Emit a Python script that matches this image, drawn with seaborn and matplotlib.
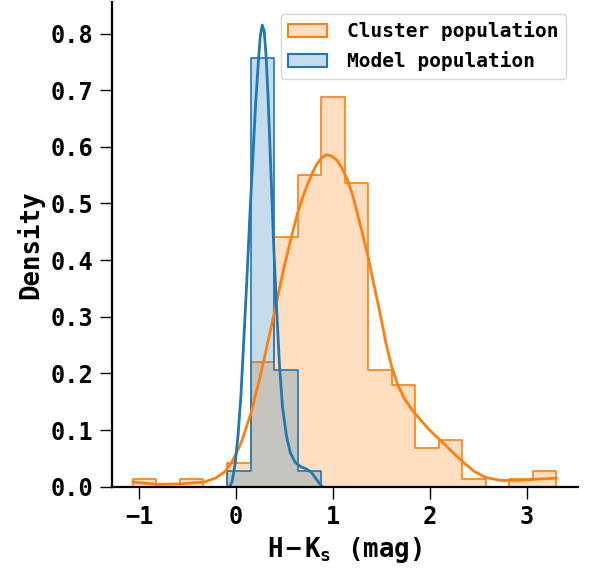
import numpy as np
import pandas as pd
import matplotlib
matplotlib.use("Agg")
import matplotlib.pyplot as plt
from matplotlib.patches import Patch
import seaborn as sns

# ---------------- data ----------------
populations = ["Cluster population", "Model population"]
bin_lo, bin_hi, n_bins = -1.066, 3.309, 18
cluster_counts = [1, 0, 1, 0, 3, 16, 32, 40, 50, 39, 15, 13, 5, 6, 1, 0, 1, 2]
model_counts = [0, 0, 0, 0, 2, 55, 15, 2, 0, 0, 0, 0, 0, 0, 0, 0, 0, 0]

cluster_kde_x = [-1.066, -0.80, -0.577, -0.335, -0.214, -0.111, -0.041, 0.027, 0.062,
                 0.154, 0.250, 0.395, 0.499, 0.570, 0.637, 0.690, 0.733, 0.785, 0.837,
                 0.885, 0.930, 0.985, 1.044, 1.095, 1.148, 1.200, 1.251, 1.305, 1.362,
                 1.430, 1.493, 1.55, 1.607, 1.67, 1.734, 1.80, 1.855, 1.915, 1.976,
                 2.035, 2.097, 2.218, 2.339, 2.459, 2.580, 2.735, 2.908, 3.080, 3.309]
cluster_kde_y = [0.008, 0.004, 0.005, 0.008, 0.015, 0.027, 0.044, 0.068, 0.082,
                 0.130, 0.195, 0.307, 0.390, 0.440, 0.484, 0.512, 0.531, 0.553, 0.570,
                 0.581, 0.586, 0.584, 0.576, 0.562, 0.543, 0.517, 0.484, 0.447, 0.407,
                 0.352, 0.301, 0.252, 0.212, 0.180, 0.157, 0.140, 0.128, 0.116, 0.104,
                 0.094, 0.084, 0.064, 0.044, 0.027, 0.016, 0.011, 0.011, 0.013, 0.015]
model_kde_x = [-0.065, -0.04, -0.01, 0.02, 0.05, 0.08, 0.11, 0.14, 0.17, 0.20, 0.23,
               0.25, 0.27, 0.29, 0.31, 0.33, 0.35, 0.37, 0.39, 0.42, 0.45, 0.48,
               0.52, 0.56, 0.61, 0.67, 0.73, 0.78, 0.83, 0.87, 0.89]
model_kde_y = [0.0, 0.01, 0.04, 0.09, 0.16, 0.26, 0.36, 0.47, 0.57, 0.67, 0.75,
               0.795, 0.815, 0.805, 0.76, 0.69, 0.60, 0.51, 0.42, 0.31, 0.21, 0.14,
               0.09, 0.06, 0.043, 0.035, 0.031, 0.025, 0.013, 0.004, 0.0]

colors = {"Cluster population": "#ff7f0e", "Model population": "#1f77b4"}
x_label = r"$\mathrm{H-K_{s}}$ (mag)"
y_label = "Density"

# ---------------- build table ----------------
edges = np.linspace(bin_lo, bin_hi, n_bins + 1)
centers = 0.5 * (edges[:-1] + edges[1:])
df = pd.concat([
    pd.DataFrame({"HK": centers, "count": cluster_counts, "pop": populations[0]}),
    pd.DataFrame({"HK": centers, "count": model_counts, "pop": populations[1]}),
], ignore_index=True)

# ---------------- style ----------------
plt.rcParams["font.family"] = ["DejaVu Sans Mono"]
plt.rcParams["font.weight"] = "bold"
plt.rcParams["axes.labelweight"] = "bold"
plt.rcParams["mathtext.fontset"] = "custom"
plt.rcParams["mathtext.rm"] = "DejaVu Sans Mono:bold"
plt.rcParams["mathtext.it"] = "DejaVu Sans Mono:bold"
plt.rcParams["mathtext.default"] = "rm"

fig = plt.figure(figsize=(5.9, 5.69), dpi=100)
ax = fig.add_axes([0.1893, 0.1447, 0.979 - 0.1893, 0.9965 - 0.1447])

sns.histplot(data=df, x="HK", weights="count", hue="pop",
             hue_order=[populations[1], populations[0]],
             palette=colors, bins=n_bins, binrange=(bin_lo, bin_hi),
             stat="density", common_norm=True, element="step",
             linewidth=1.2, legend=False, ax=ax)

sns.lineplot(x=cluster_kde_x, y=cluster_kde_y, color=colors[populations[0]],
             linewidth=2.0, ax=ax)
sns.lineplot(x=model_kde_x, y=model_kde_y, color=colors[populations[1]],
             linewidth=2.0, ax=ax)

ax.set_ylim(bottom=0)
ax.set_xticks([-1, 0, 1, 2, 3])
ax.set_yticks([0.0, 0.1, 0.2, 0.3, 0.4, 0.5, 0.6, 0.7, 0.8])
ax.set_xlabel(x_label, fontsize=18.5, fontweight="bold", labelpad=4)
ax.set_ylabel(y_label, fontsize=18.5, fontweight="bold", labelpad=4)
ax.tick_params(labelsize=17, length=8.5, width=1.0, pad=5)
for lab in ax.get_xticklabels() + ax.get_yticklabels():
    lab.set_fontweight("bold")
for s in ["left", "bottom"]:
    ax.spines[s].set_linewidth(1.6)
sns.despine(ax=ax)

handles = []
for p in populations:
    handles.append(Patch(facecolor=matplotlib.colors.to_rgba(colors[p], 0.25),
                         edgecolor=colors[p], linewidth=1.5))
ax.legend(handles, populations, loc="upper right", borderaxespad=0.6,
          handletextpad=1.0, prop={"size": 14, "weight": "bold"})

fig.savefig("out.png", dpi=100)
